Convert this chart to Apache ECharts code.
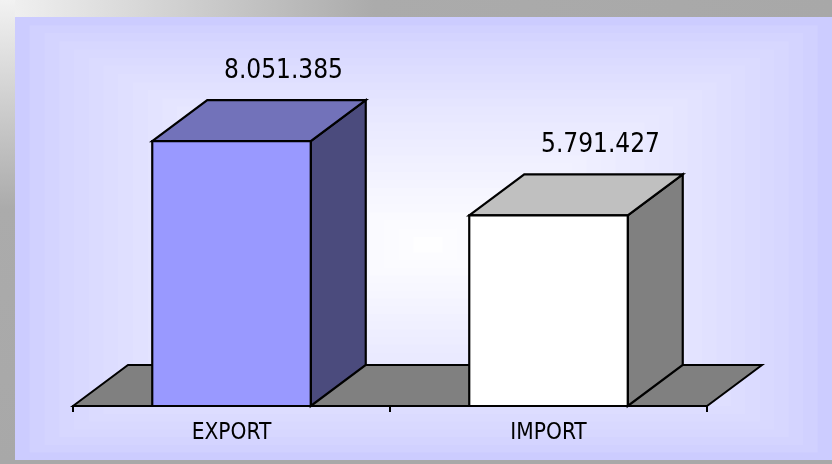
<!DOCTYPE html>
<html>
<head>
<meta charset="utf-8">
<script src="https://cdn.jsdelivr.net/npm/echarts@6/dist/echarts.min.js"></script>
<style>
  html, body { margin: 0; padding: 0; background: #fff; }
  #tradeChart { width: 832px; height: 464px; }
</style>
</head>
<body>
<div id="tradeChart"></div>
<script>
// data
const categories = ['EXPORT', 'IMPORT'];
const values = [8051385, 5791427];
const axisMax = 10000000;

const FONT = '"DejaVu Sans Condensed", "DejaVu Sans", Verdana, sans-serif';
// depth of the fake 3d
const DX = 55;
const DY = -41;

// front / top / side colours per bar
const faceColors = [
  { front: '#9999FF', top: '#7272BA', side: '#4B4B7D' },
  { front: '#FFFFFF', top: '#C0C0C0', side: '#808080' }
];

function fmt(n) {
  return String(n).replace(/\B(?=(\d{3})+(?!\d))/g, '.');
}

// panel background, stepped rectangular gradient (white middle -> lavender edge)
function panelRects() {
  const px = 15, py = 17, pw = 817, ph = 443;
  const cx = 428, cy = 245;
  const steps = 28;
  const out = [];
  const c0 = [204, 204, 255], c1 = [255, 255, 255];
  for (let i = 0; i < steps; i++) {
    const t = i / steps;
    const f = Math.pow(t, 0.7);
    const col = c0.map((v, k) => Math.round(v + (c1[k] - v) * f));
    const left = px + (cx - px) * t;
    const right = px + pw - (px + pw - cx) * t;
    const top = py + (cy - py) * t;
    const bottom = py + ph - (py + ph - cy) * t;
    out.push({
      type: 'rect',
      silent: true,
      z: -10,
      shape: { x: left, y: top, width: right - left, height: bottom - top },
      style: { fill: 'rgb(' + col.join(',') + ')' }
    });
  }
  return out;
}

const chart = echarts.init(document.getElementById('tradeChart'));

const option = {
  animation: false,
  backgroundColor: '#ffffff',
  graphic: [
    {
      type: 'rect', silent: true, z: -20,
      shape: { x: 0, y: 0, width: 832, height: 17 },
      style: { fill: new echarts.graphic.LinearGradient(0, 0, 1, 0, [
        { offset: 0, color: '#F2F2F2' }, { offset: 0.45, color: '#ABABAB' }, { offset: 1, color: '#A8A8A8' }]) }
    },
    {
      type: 'rect', silent: true, z: -20,
      shape: { x: 0, y: 0, width: 15, height: 464 },
      style: { fill: new echarts.graphic.LinearGradient(0, 0, 0, 1, [
        { offset: 0, color: '#F2F2F2' }, { offset: 0.45, color: '#ABABAB' }, { offset: 1, color: '#A8A8A8' }]) }
    },
    {
      type: 'rect', silent: true, z: -20,
      shape: { x: 0, y: 460, width: 832, height: 4 },
      style: { fill: '#A8A8A8' }
    }
  ].concat(panelRects()),
  grid: {
    left: 73,
    right: 125,
    top: 77,
    bottom: 58
  },
  xAxis: {
    type: 'category',
    data: categories,
    boundaryGap: true,
    axisLine: { lineStyle: { color: '#000', width: 2 } },
    axisTick: { show: true, length: 6, lineStyle: { color: '#000', width: 2 } },
    axisLabel: { color: '#000', fontSize: 22.5, fontFamily: FONT, margin: 16 },
    z: 5
  },
  yAxis: {
    type: 'value',
    min: 0,
    max: axisMax,
    show: false,
    splitLine: { show: false }
  },
  series: [
    {
      // the floor
      type: 'custom',
      data: [[0, 0]],
      clip: false,
      renderItem: function (params, api) {
        const cs = params.coordSys;
        const yb = cs.y + cs.height;
        return {
          type: 'polygon',
          shape: { points: [
            [cs.x, yb], [cs.x + DX, yb + DY],
            [cs.x + cs.width + DX, yb + DY], [cs.x + cs.width, yb]
          ] },
          style: { fill: '#808080', stroke: '#000', lineWidth: 2, lineJoin: 'miter' }
        };
      }
    },
    {
      type: 'custom',
      data: categories.map((c, i) => [i, values[i]]),
      clip: false,
      z: 10,
      renderItem: function (params, api) {
        const idx = api.value(0);
        const top = api.coord([idx, api.value(1)]);
        const base = api.coord([idx, 0]);
        const w = api.size([1, 0])[0] * 0.5;
        const x0 = top[0] - w / 2, x1 = top[0] + w / 2;
        const yt = top[1], yb = base[1];
        const c = faceColors[params.dataIndex];
        const edge = { stroke: '#000', lineWidth: 2.2, lineJoin: 'miter' };
        return {
          type: 'group',
          children: [
            {
              type: 'polygon',
              shape: { points: [[x1, yt], [x1 + DX, yt + DY], [x1 + DX, yb + DY], [x1, yb]] },
              style: Object.assign({ fill: c.side }, edge)
            },
            {
              type: 'polygon',
              shape: { points: [[x0, yt], [x0 + DX, yt + DY], [x1 + DX, yt + DY], [x1, yt]] },
              style: Object.assign({ fill: c.top }, edge)
            },
            {
              type: 'rect',
              shape: { x: x0, y: yt, width: x1 - x0, height: yb - yt },
              style: Object.assign({ fill: c.front }, edge)
            },
            {
              type: 'text',
              x: top[0] + 52,
              y: yt + DY - 29,
              style: {
                text: fmt(api.value(1)),
                fill: '#000',
                font: '26px ' + FONT,
                align: 'center',
                verticalAlign: 'middle'
              }
            }
          ]
        };
      }
    }
  ]
};

option && chart.setOption(option);
</script>
</body>
</html>
